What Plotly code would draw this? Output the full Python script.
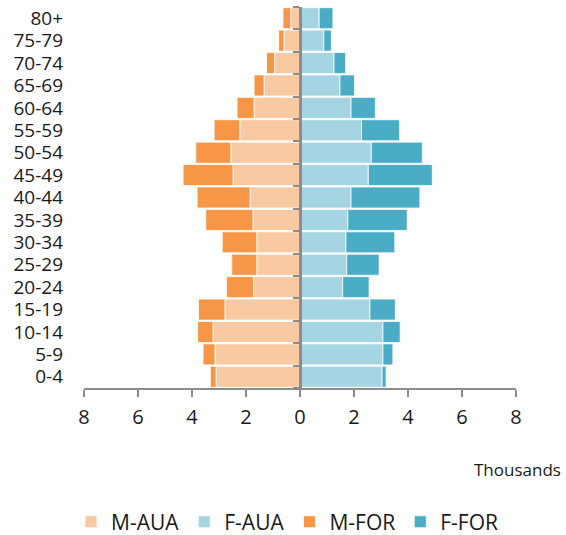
import plotly.graph_objects as go

ages = ["0-4", "5-9", "10-14", "15-19", "20-24", "25-29", "30-34", "35-39",
        "40-44", "45-49", "50-54", "55-59", "60-64", "65-69", "70-74", "75-79", "80+"]

m_aua = [3.11, 3.15, 3.22, 2.78, 1.72, 1.60, 1.60, 1.74, 1.85, 2.48, 2.56, 2.23, 1.70, 1.33, 0.94, 0.59, 0.34]
m_for = [0.21, 0.44, 0.57, 0.98, 1.00, 0.93, 1.28, 1.75, 1.96, 1.85, 1.30, 0.95, 0.63, 0.37, 0.30, 0.20, 0.29]
f_aua = [3.04, 3.07, 3.07, 2.59, 1.58, 1.73, 1.70, 1.77, 1.89, 2.53, 2.64, 2.28, 1.89, 1.48, 1.26, 0.88, 0.71]
f_for = [0.15, 0.37, 0.64, 0.94, 0.98, 1.20, 1.81, 2.20, 2.55, 2.37, 1.89, 1.41, 0.90, 0.54, 0.43, 0.28, 0.51]

x_ticks = [-8, -6, -4, -2, 0, 2, 4, 6, 8]
x_ticktext = ["8", "6", "4", "2", "0", "2", "4", "6", "8"]

C_MAUA = "#F9C9A1"
C_FAUA = "#A5D5E2"
C_MFOR = "#F79646"
C_FFOR = "#4BACC6"

FONT = "Open Sans"
GREY = "#8C8C8C"

fig = go.Figure()
line = dict(color="rgba(255,255,255,0.8)", width=1)
fig.add_trace(go.Bar(y=ages, x=[-v for v in m_aua], orientation="h", name="M-AUA",
                     marker=dict(color=C_MAUA, line=line)))
fig.add_trace(go.Bar(y=ages, x=f_aua, orientation="h", name="F-AUA",
                     marker=dict(color=C_FAUA, line=line)))
fig.add_trace(go.Bar(y=ages, x=[-v for v in m_for], orientation="h", name="M-FOR",
                     marker=dict(color=C_MFOR, line=line)))
fig.add_trace(go.Bar(y=ages, x=f_for, orientation="h", name="F-FOR",
                     marker=dict(color=C_FFOR, line=line)))
# invisible trace to carry the central category axis
fig.add_trace(go.Scatter(y=ages, x=[0] * len(ages), yaxis="y2", mode="markers",
                         marker=dict(opacity=0), showlegend=False, hoverinfo="skip"))

fig.update_layout(
    width=566, height=535,
    margin=dict(l=84, r=50, t=7, b=147, autoexpand=False),
    paper_bgcolor="white", plot_bgcolor="white",
    barmode="relative", bargap=0.06,
    font=dict(family=FONT, color="#1a1a1a"),
    xaxis=dict(range=[-8, 8], tickvals=x_ticks, ticktext=x_ticktext, automargin=False,
               showgrid=False, zeroline=False, showline=True, linecolor=GREY, linewidth=2,
               ticks="outside", ticklen=7, tickwidth=2, tickcolor=GREY, ticklabelstandoff=3,
               tickfont=dict(size=20, family=FONT), fixedrange=True),
    yaxis=dict(type="category", categoryorder="array", categoryarray=ages,
               tickmode="array", tickvals=ages, ticktext=ages, automargin=False,
               range=[-0.5, 16.5], showgrid=False, zeroline=False, showline=False,
               ticks="", ticklabelstandoff=20, tickfont=dict(size=19, family=FONT)),
    yaxis2=dict(type="category", categoryorder="array", categoryarray=ages,
                range=[-0.5, 16.5], overlaying="y", anchor="free", position=0.5,
                side="left", showline=True, linecolor=GREY, linewidth=2.5, automargin=False,
                ticks="outside", tickson="boundaries", ticklen=6, tickwidth=2, tickcolor=GREY,
                showticklabels=False, showgrid=False, zeroline=False),
    legend=dict(orientation="h", x=-0.03, xanchor="left", y=-0.352, yanchor="middle",
                font=dict(size=21, family=FONT), traceorder="normal"),
    annotations=[dict(text="Thousands", xref="paper", yref="paper", x=1.109, y=-0.215,
                      xanchor="right", yanchor="middle", showarrow=False,
                      font=dict(size=17, family=FONT))],
)

fig.write_html("out.html", config={"displayModeBar": False},
               post_script="document.body.style.margin='0';")
